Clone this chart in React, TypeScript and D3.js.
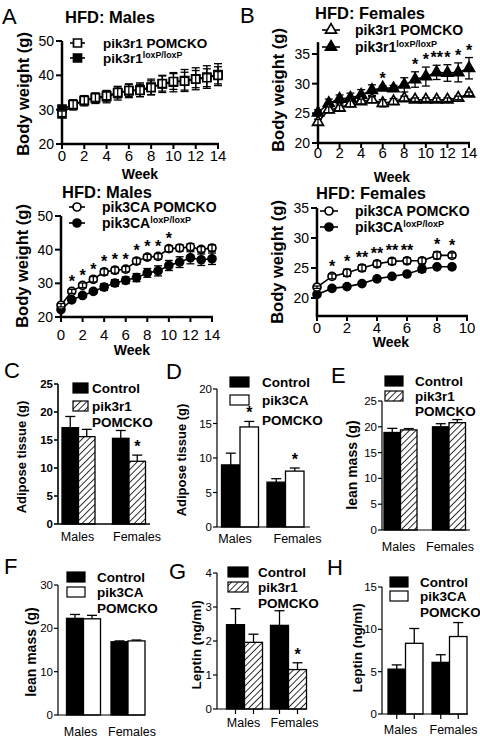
import React from "react";
import * as d3 from "d3";

const FONT = "'Liberation Sans', Arial, Helvetica, sans-serif";

// ---------- Line chart data ----------
const weeks14 = [0, 1, 2, 3, 4, 5, 6, 7, 8, 9, 10, 11, 12, 13, 14];
const weeks9 = [0, 1, 2, 3, 4, 5, 6, 7, 8, 9];
const xTicks14 = [0, 2, 4, 6, 8, 10, 12, 14];
const xTicks10 = [0, 2, 4, 6, 8, 10];
const yTicksMale = [20, 30, 40, 50];
const yTicksFemale = [20, 25, 30, 35];

// A (top): pik3r1, males
const r1MaleCtrl = [30.2, 31.4, 32.6, 33.3, 33.8, 34.8, 35.5, 35.8, 36.6, 37.5, 38.0, 38.5, 39.0, 39.5, 40.2];
const r1MaleCtrlErr = [0.8, 1.5, 1.5, 1.5, 1.8, 2.0, 2.0, 2.0, 2.3, 2.5, 2.8, 3.2, 3.2, 3.3, 3.2];
const r1MaleKO = [28.8, 31.5, 32.7, 33.5, 34.0, 35.0, 35.6, 35.6, 36.4, 37.6, 38.2, 38.3, 38.9, 39.3, 40.0];
const r1MaleKOErr = [0.8, 1.2, 1.2, 1.3, 1.5, 1.6, 1.8, 1.8, 2.0, 2.2, 2.3, 2.6, 2.5, 2.6, 2.5];

// B (top): pik3r1, females
const r1FemCtrl = [25.1, 26.7, 27.4, 27.6, 28.1, 28.9, 29.3, 29.2, 29.8, 30.7, 31.2, 31.9, 31.8, 31.9, 32.6];
const r1FemCtrlErr = [0.5, 0.7, 0.7, 0.8, 0.9, 0.9, 0.3, 0.5, 1.2, 1.3, 1.6, 1.2, 1.4, 1.6, 1.8];
const r1FemKO = [23.5, 25.6, 25.9, 26.6, 27.0, 27.3, 26.7, 27.0, 27.5, 27.3, 27.3, 27.3, 27.3, 27.6, 28.3];
const r1FemKOErr = [0.5, 0.5, 0.5, 0.5, 0.4, 0.5, 0.6, 0.5, 0.4, 0.3, 0.3, 0.3, 0.3, 0.3, 0.3];
const r1FemStarWeeks = [6, 9, 10, 11, 12, 13, 14];
const r1FemStarLabels = ["*", "*", "*", "**", "*", "*", "*"];

// A (bottom): pik3CA, males
const caMaleCtrl = [22.2, 25.1, 26.4, 27.6, 28.9, 30.1, 30.9, 31.7, 33.1, 33.7, 35.3, 36.3, 37.6, 37.0, 37.3];
const caMaleCtrlErr = [0.4, 0.5, 0.5, 0.6, 1.0, 1.0, 1.0, 1.2, 1.3, 1.5, 1.5, 1.6, 1.8, 1.7, 1.7];
const caMaleKO = [23.5, 27.6, 29.4, 31.2, 33.4, 33.9, 34.2, 36.6, 37.8, 38.0, 40.3, 40.5, 40.8, 40.1, 40.5];
const caMaleKOErr = [0.5, 0.6, 0.7, 0.8, 0.9, 0.9, 0.8, 0.9, 0.8, 0.8, 0.9, 1.0, 1.0, 0.8, 0.9];
const caMaleStarWeeks = [1, 2, 3, 4, 5, 6, 7, 8, 9, 10];
const caMaleStarLabels = ["*", "*", "*", "*", "*", "*", "*", "*", "*", "*"];

// B (bottom): pik3CA, females
const caFemCtrl = [20.6, 21.6, 21.9, 22.4, 23.2, 23.6, 24.0, 24.8, 25.2, 25.2];
const caFemCtrlErr = [0.2, 0.2, 0.2, 0.3, 0.4, 0.2, 0.2, 0.5, 0.2, 0.4];
const caFemKO = [21.8, 23.6, 24.2, 25.0, 25.7, 26.1, 26.2, 26.2, 27.1, 27.1];
const caFemKOErr = [0.2, 0.4, 0.6, 0.5, 0.5, 0.5, 0.5, 0.5, 0.6, 0.4];
const caFemStarWeeks = [1, 2, 3, 4, 5, 6, 8, 9];
const caFemStarLabels = ["*", "*", "**", "**", "**", "**", "*", "*"];

// ---------- Bar chart data ----------
const sexes = ["Males", "Females"];
const adipR1Ctrl = [17.2, 15.3];
const adipR1CtrlErr = [2.0, 1.4];
const adipR1KO = [15.6, 11.2];
const adipR1KOErr = [1.3, 1.1];
const adipR1Stars = [false, true];

const adipCACtrl = [9.0, 6.5];
const adipCACtrlErr = [1.7, 0.5];
const adipCAKO = [14.5, 8.1];
const adipCAKOErr = [0.8, 0.45];
const adipCAStars = [true, true];

const leanR1Ctrl = [18.9, 20.0];
const leanR1CtrlErr = [0.8, 0.6];
const leanR1KO = [19.4, 20.8];
const leanR1KOErr = [0.25, 0.6];

const leanCACtrl = [22.3, 16.9];
const leanCACtrlErr = [0.9, 0.2];
const leanCAKO = [22.2, 17.1];
const leanCAKOErr = [0.8, 0.2];

const leptR1Ctrl = [2.48, 2.46];
const leptR1CtrlErr = [0.47, 0.43];
const leptR1KO = [1.96, 1.16];
const leptR1KOErr = [0.24, 0.2];
const leptR1Stars = [false, true];

const leptCACtrl = [5.3, 6.1];
const leptCACtrlErr = [0.5, 0.9];
const leptCAKO = [8.35, 9.15];
const leptCAKOErr = [1.75, 1.65];

const ticksAdipR1 = [0, 5, 10, 15, 20, 25];
const ticksAdipCA = [0, 5, 10, 15, 20];
const ticksLeanR1 = [0, 5, 10, 15, 20, 25];
const ticksLeanCA = [0, 10, 20, 30];
const ticksLeptR1 = [0, 1, 2, 3, 4];
const ticksLeptCA = [0, 5, 10, 15];

function symbolPath(kind: string) {
  const type = kind === "square" ? d3.symbolSquare : kind === "triangle" ? d3.symbolTriangle : d3.symbolCircle;
  const size = kind === "square" ? 64 : kind === "triangle" ? 52 : 50;
  return d3.symbol().type(type).size(size)() as string;
}

function LinePanel(p: any) {
  const x = d3.scaleLinear().domain([0, p.xMax]).range([p.x0, p.x1]);
  const y = d3.scaleLinear().domain([p.yMin, p.yMax]).range([p.yBot, p.yTop]);
  const yA0 = y(p.axisMin);
  const yA1 = y(p.axisMax);
  const sym = symbolPath(p.marker);
  const lineGen = d3
    .line<number>()
    .x((_, i) => x(p.weeks[i]))
    .y((d) => y(d));

  const series = (vals: number[], errs: number[], filled: boolean) => (
    <g>
      <path d={lineGen(vals) as string} fill="none" stroke="#000" strokeWidth={1.6} />
      {vals.map((v, i) => (
        <path
          key={"m" + i}
          d={sym}
          transform={`translate(${x(p.weeks[i])},${y(v)})`}
          fill={filled ? "#000" : "#fff"}
          stroke="#000"
          strokeWidth={1.7}
        />
      ))}
      {vals.map((v, i) => {
        const cx = x(p.weeks[i]);
        const lo = y(v - errs[i]);
        const hi = y(v + errs[i]);
        return (
          <g key={"e" + i} stroke="#000" strokeWidth={1.3}>
            <line x1={cx} x2={cx} y1={lo} y2={hi} />
            <line x1={cx - 4} x2={cx + 4} y1={hi} y2={hi} />
            <line x1={cx - 4} x2={cx + 4} y1={lo} y2={lo} />
          </g>
        );
      })}
    </g>
  );

  const lg = p.legend;
  return (
    <g>
      {p.letter && (
        <text x={p.letterX} y={p.letterY} fontSize={22} dominantBaseline="central">
          {p.letter}
        </text>
      )}
      <text x={p.titleX} y={p.titleY} fontSize={16.5} fontWeight="bold" textAnchor="middle" dominantBaseline="central">
        {p.title}
      </text>
      <line x1={p.x0} x2={p.x0} y1={yA0} y2={yA1} stroke="#000" strokeWidth={2.5} />
      <line x1={p.x0 - 1.2} x2={p.x1 + 1} y1={yA0} y2={yA0} stroke="#000" strokeWidth={2.5} />
      {p.yTicks.map((t: number) => (
        <g key={"yt" + t}>
          <line x1={p.x0 - 6} x2={p.x0} y1={y(t)} y2={y(t)} stroke="#000" strokeWidth={2} />
          <text x={p.x0 - 8} y={y(t)} fontSize={14} textAnchor="end" dominantBaseline="central">
            {t}
          </text>
        </g>
      ))}
      {p.xTicks.map((t: number) => (
        <g key={"xt" + t}>
          <line x1={x(t)} x2={x(t)} y1={yA0} y2={yA0 + 5} stroke="#000" strokeWidth={2} />
          <text x={x(t)} y={p.xTickY} fontSize={15} textAnchor="middle" dominantBaseline="central">
            {t}
          </text>
        </g>
      ))}
      <text
        transform={`translate(${p.yLabelX},${p.yLabelY}) rotate(-90)`}
        fontSize={16.5}
        fontWeight="bold"
        textAnchor="middle"
        dominantBaseline="central"
      >
        Body weight (g)
      </text>
      <text x={p.weekX} y={p.weekY} fontSize={14} fontWeight="bold" textAnchor="middle" dominantBaseline="central">
        Week
      </text>
      {series(p.ctrl, p.ctrlErr, true)}
      {series(p.ko, p.koErr, false)}
      {(p.starWeeks || []).map((w: number, k: number) => {
        const i = p.weeks.indexOf(w);
        const top = Math.max(p.ctrl[i] + p.ctrlErr[i], p.ko[i] + p.koErr[i]);
        return (
          <text key={"s" + k} x={x(w)} y={y(top) - 2} fontSize={16} fontWeight="bold" textAnchor="middle">
            {p.starLabels[k]}
          </text>
        );
      })}
      {[0, 1].map((r) => {
        const yy = lg.rows[r];
        const filled = r === 1;
        return (
          <g key={"lg" + r}>
            <line x1={lg.lx0} x2={lg.lx1} y1={yy} y2={yy} stroke="#000" strokeWidth={1.6} />
            <path
              d={sym}
              transform={`translate(${(lg.lx0 + lg.lx1) / 2},${yy})`}
              fill={filled ? "#000" : "#fff"}
              stroke="#000"
              strokeWidth={1.7}
            />
            <text x={lg.textX} y={yy} fontSize={lg.font} fontWeight="bold" dominantBaseline="central">
              {filled ? lg.ctrlLabel : lg.koLabel}
              {filled && (
                <tspan fontSize={lg.font * 0.65} dy={-3.5}>
                  loxP/loxP
                </tspan>
              )}
            </text>
          </g>
        );
      })}
    </g>
  );
}

function BarPanel(p: any) {
  const y = d3.scaleLinear().domain([0, p.yMax]).range([p.yBot, p.yTop]);
  const xg = d3.scalePoint<string>().domain(sexes).range(p.centers);
  const sub = d3.scaleBand<string>().domain(["ctrl", "ko"]).range([-p.bw, p.bw]);
  const koFill = p.koStyle === "hatch" ? "url(#hatch)" : "#fff";
  const bar = (s: string, key: string, v: number, e: number, fill: string) => {
    const bx = (xg(s) as number) + (sub(key) as number);
    const cx = bx + p.bw / 2;
    return (
      <g key={s + key}>
        <line x1={cx} x2={cx} y1={y(v)} y2={y(v + e)} stroke="#000" strokeWidth={1.3} />
        <line x1={cx - 5} x2={cx + 5} y1={y(v + e)} y2={y(v + e)} stroke="#000" strokeWidth={1.3} />
        <rect x={bx} y={y(v)} width={p.bw} height={p.yBot - y(v)} fill={fill} stroke="#000" strokeWidth={1.3} />
      </g>
    );
  };
  return (
    <g>
      <text x={p.letterX} y={p.letterY} fontSize={22} dominantBaseline="central">
        {p.letter}
      </text>
      {sexes.map((s, i) => (
        <g key={s}>
          {bar(s, "ctrl", p.ctrl[i], p.ctrlErr[i], "#000")}
          {bar(s, "ko", p.ko[i], p.koErr[i], koFill)}
          {p.stars && p.stars[i] && (
            <text
              x={(xg(s) as number) + (sub("ko") as number) + p.bw / 2}
              y={y(p.ko[i] + p.koErr[i]) - 3}
              fontSize={16}
              fontWeight="bold"
              textAnchor="middle"
            >
              *
            </text>
          )}
          {p.tickMarks &&
            ["ctrl", "ko"].map((k) => {
              const cx = (xg(s) as number) + (sub(k) as number) + p.bw / 2;
              return <line key={k} x1={cx} x2={cx} y1={p.yBot} y2={p.yBot + 5} stroke="#000" strokeWidth={1.2} />;
            })}
          <text
            x={(xg(s) as number) + p.labelDx[i]}
            y={p.xLabelY}
            fontSize={12.5}
            textAnchor="middle"
            dominantBaseline="central"
          >
            {s}
          </text>
        </g>
      ))}
      <line x1={p.axisX} x2={p.axisX} y1={p.yBot} y2={y(p.yMax)} stroke="#000" strokeWidth={p.axisW} />
      <line x1={p.axisX} x2={p.xEnd} y1={p.yBot} y2={p.yBot} stroke="#000" strokeWidth={p.axisW} />
      {p.yTicks.map((t: number) => (
        <g key={"t" + t}>
          <line x1={p.axisX - 4} x2={p.axisX} y1={y(t)} y2={y(t)} stroke="#000" strokeWidth={p.axisW} />
          <text
            x={p.axisX - 5}
            y={y(t)}
            fontSize={11.5}
            fontWeight={p.tickBold ? "bold" : "normal"}
            textAnchor="end"
            dominantBaseline="central"
          >
            {t}
          </text>
        </g>
      ))}
      <text
        transform={`translate(${p.yLabelX},${p.yLabelY}) rotate(-90)`}
        fontSize={p.yLabelFont}
        fontWeight="bold"
        textAnchor="middle"
        dominantBaseline="central"
      >
        {p.yLabel}
      </text>
      <rect x={p.legendX} y={p.legendRows[0] - 5} width={p.legendW} height={10} fill="#000" stroke="#000" strokeWidth={1.2} />
      <rect x={p.legendX} y={p.legendRows[1] - 5} width={p.legendW} height={10} fill={koFill} stroke="#000" strokeWidth={1.2} />
      {["Control", p.koName, "POMCKO"].map((t, r) => (
        <text key={t} x={p.legendTextX} y={p.legendRows[r]} fontSize={13.5} fontWeight="bold" dominantBaseline="central">
          {t}
        </text>
      ))}
    </g>
  );
}

export default function App() {
  return (
    <svg
      width={480}
      height={740}
      style={{ position: "absolute", left: 0, top: 0, display: "block", background: "#fff" }}
      fontFamily={FONT}
    >
      <defs>
        <pattern id="hatch" width={4.6} height={4.6} patternUnits="userSpaceOnUse" patternTransform="rotate(45)">
          <rect width={4.6} height={4.6} fill="#fff" />
          <line x1={0} y1={0} x2={0} y2={4.6} stroke="#000" strokeWidth={1.6} />
        </pattern>
      </defs>
      <rect width={480} height={740} fill="#fff" />

      <LinePanel
        letter="A" letterX={2} letterY={16}
        title="HFD: Males" titleX={110} titleY={17}
        x0={62} x1={218} xMax={14} xTicks={xTicks14} xTickY={155}
        yMin={20} yMax={50} yBot={144} yTop={41} axisMin={20} axisMax={50} yTicks={yTicksMale}
        weeks={weeks14} ctrl={r1MaleCtrl} ctrlErr={r1MaleCtrlErr} ko={r1MaleKO} koErr={r1MaleKOErr}
        marker="square"
        legend={{ lx0: 70, lx1: 85, textX: 103, rows: [43, 58], font: 13.5, koLabel: "pik3r1 POMCKO", ctrlLabel: "pik3r1" }}
        yLabelX={23} yLabelY={94} weekX={140} weekY={174}
      />
      <LinePanel
        letter="B" letterX={240} letterY={15}
        title="HFD: Females" titleX={370} titleY={13}
        x0={318} x1={469} xMax={14} xTicks={xTicks14} xTickY={152}
        yMin={20} yMax={35} yBot={143} yTop={54} axisMin={20} axisMax={37} yTicks={yTicksFemale}
        weeks={weeks14} ctrl={r1FemCtrl} ctrlErr={r1FemCtrlErr} ko={r1FemKO} koErr={r1FemKOErr}
        marker="triangle"
        starWeeks={r1FemStarWeeks} starLabels={r1FemStarLabels}
        legend={{ lx0: 322, lx1: 340, textX: 355, rows: [30, 47], font: 14, koLabel: "pik3r1 POMCKO", ctrlLabel: "pik3r1" }}
        yLabelX={278} yLabelY={90} weekX={392} weekY={177}
      />
      <LinePanel
        title="HFD: Males" titleX={107} titleY={192}
        x0={61} x1={212} xMax={14} xTicks={xTicks14} xTickY={334}
        yMin={20} yMax={50} yBot={317} yTop={216} axisMin={20} axisMax={50} yTicks={yTicksMale}
        weeks={weeks14} ctrl={caMaleCtrl} ctrlErr={caMaleCtrlErr} ko={caMaleKO} koErr={caMaleKOErr}
        marker="circle"
        starWeeks={caMaleStarWeeks} starLabels={caMaleStarLabels}
        legend={{ lx0: 69, lx1: 85, textX: 102, rows: [207, 223], font: 14, koLabel: "pik3CA POMCKO", ctrlLabel: "pik3CA" }}
        yLabelX={22} yLabelY={266} weekX={132} weekY={350}
      />
      <LinePanel
        title="HFD: Females" titleX={371} titleY={193}
        x0={317} x1={467} xMax={10} xTicks={xTicks10} xTickY={327}
        yMin={20} yMax={35} yBot={298} yTop={208} axisMin={17} axisMax={35} yTicks={yTicksFemale}
        weeks={weeks9} ctrl={caFemCtrl} ctrlErr={caFemCtrlErr} ko={caFemKO} koErr={caFemKOErr}
        marker="circle"
        starWeeks={caFemStarWeeks} starLabels={caFemStarLabels}
        legend={{ lx0: 320, lx1: 338, textX: 355, rows: [211, 227], font: 14, koLabel: "pik3CA POMCKO", ctrlLabel: "pik3CA" }}
        yLabelX={277} yLabelY={262} weekX={391} weekY={342}
      />

      <BarPanel
        letter="C" letterX={4} letterY={370}
        axisX={58} xEnd={150} yBot={524} yTop={384} yMax={25} yTicks={ticksAdipR1} axisW={1.6} tickBold
        centers={[78.5, 129]} bw={16.5}
        ctrl={adipR1Ctrl} ctrlErr={adipR1CtrlErr} ko={adipR1KO} koErr={adipR1KOErr} koStyle="hatch" stars={adipR1Stars}
        legendX={73} legendW={15} legendTextX={92} legendRows={[388, 406, 422]} koName="pik3r1"
        yLabel="Adipose tissue (g)" yLabelX={21} yLabelY={457} yLabelFont={13}
        xLabelY={537} labelDx={[-1, 8]}
      />
      <BarPanel
        letter="D" letterX={166} letterY={371}
        axisX={217} xEnd={310} yBot={527} yTop={389} yMax={20} yTicks={ticksAdipCA} axisW={1.2}
        centers={[240, 285.5]} bw={18.5}
        ctrl={adipCACtrl} ctrlErr={adipCACtrlErr} ko={adipCAKO} koErr={adipCAKOErr} koStyle="white" stars={adipCAStars}
        legendX={230} legendW={19} legendTextX={262} legendRows={[382, 400, 420]} koName="pik3CA"
        yLabel="Adipose tissue (g)" yLabelX={181} yLabelY={460} yLabelFont={13}
        xLabelY={539} labelDx={[-5, 12]}
      />
      <BarPanel
        letter="E" letterX={331} letterY={375}
        axisX={382} xEnd={470} yBot={530} yTop={401} yMax={25} yTicks={ticksLeanR1} axisW={1.2}
        centers={[400.5, 449]} bw={16.5}
        ctrl={leanR1Ctrl} ctrlErr={leanR1CtrlErr} ko={leanR1KO} koErr={leanR1KOErr} koStyle="hatch"
        legendX={385} legendW={18} legendTextX={415} legendRows={[381, 396, 411]} koName="pik3r1"
        yLabel="lean mass (g)" yLabelX={352} yLabelY={465} yLabelFont={14}
        xLabelY={547} labelDx={[-2, 1]}
      />
      <BarPanel
        letter="F" letterX={4} letterY={566}
        axisX={58} xEnd={145} yBot={715} yTop={585} yMax={30} yTicks={ticksLeanCA} axisW={1.2}
        centers={[83.5, 128]} bw={17}
        ctrl={leanCACtrl} ctrlErr={leanCACtrlErr} ko={leanCAKO} koErr={leanCAKOErr} koStyle="white"
        legendX={67} legendW={18} legendTextX={97} legendRows={[577, 592, 608]} koName="pik3CA"
        yLabel="lean mass (g)" yLabelX={31} yLabelY={652} yLabelFont={14}
        xLabelY={732} labelDx={[-3, 4]}
      />
      <BarPanel
        letter="G" letterX={169} letterY={571}
        axisX={217} xEnd={307} yBot={709} yTop={573} yMax={4} yTicks={ticksLeptR1} axisW={1.2} tickMarks
        centers={[244.5, 288.5]} bw={18}
        ctrl={leptR1Ctrl} ctrlErr={leptR1CtrlErr} ko={leptR1KO} koErr={leptR1KOErr} koStyle="hatch" stars={leptR1Stars}
        legendX={228} legendW={20} legendTextX={258} legendRows={[572, 587, 603]} koName="pik3r1"
        yLabel="Leptin (ng/ml)" yLabelX={196} yLabelY={645} yLabelFont={13.5}
        xLabelY={723} labelDx={[-1, 6]}
      />
      <BarPanel
        letter="H" letterX={327} letterY={567}
        axisX={382} xEnd={468} yBot={714} yTop={587} yMax={15} yTicks={ticksLeptCA} axisW={1.2} tickMarks
        centers={[405.5, 449.5]} bw={17.5}
        ctrl={leptCACtrl} ctrlErr={leptCACtrlErr} ko={leptCAKO} koErr={leptCAKOErr} koStyle="white"
        legendX={390} legendW={18} legendTextX={420} legendRows={[582, 596, 612]} koName="pik3CA"
        yLabel="Leptin (ng/ml)" yLabelX={357} yLabelY={648} yLabelFont={13.5}
        xLabelY={730} labelDx={[-5, 4]}
      />
    </svg>
  );
}
